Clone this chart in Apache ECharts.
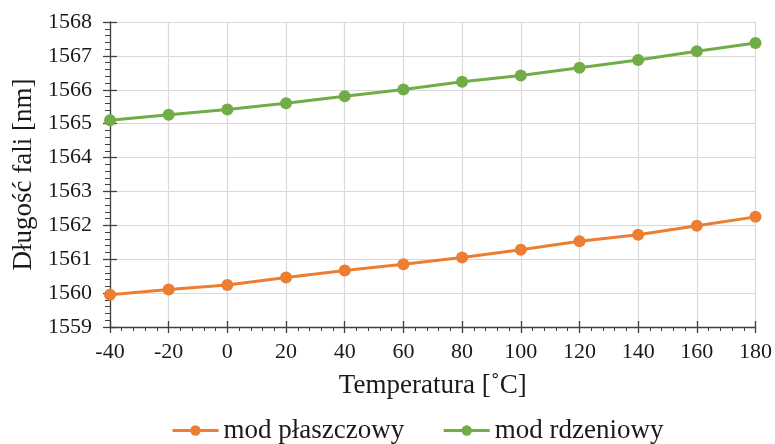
<!DOCTYPE html>
<html><head><meta charset="utf-8">
<script src="https://cdn.jsdelivr.net/npm/echarts@6/dist/echarts.min.js"></script>
<style>html,body{margin:0;padding:0;background:#fff}#c{width:775px;height:444px}</style>
</head><body><div id="c"></div>
<script>
const temperatures = [-40, -20, 0, 20, 40, 60, 80, 100, 120, 140, 160, 180];
const modPlaszczowy = [1559.95, 1560.11, 1560.24, 1560.46, 1560.67, 1560.85, 1561.05, 1561.28, 1561.53, 1561.72, 1561.99, 1562.25];
const modRdzeniowy = [1565.10, 1565.26, 1565.42, 1565.60, 1565.81, 1566.01, 1566.24, 1566.42, 1566.65, 1566.88, 1567.14, 1567.38];
const seriesNames = ['mod płaszczowy', 'mod rdzeniowy'];
const xTitle = 'Temperatura [˚C]';
const yTitle = 'Długość fali [nm]';

const font = 'Liberation Serif';
const chart = echarts.init(document.getElementById('c'), null, {renderer: 'canvas'});
const pair = (ys) => temperatures.map((t, i) => [t, ys[i]]);
const axisColor = '#404040';
const txt = '#1a1a1a';
chart.setOption({
  animation: false,
  textStyle: {fontFamily: font, color: txt},
  grid: {left: 110, right: 18, top: 22, bottom: 117},
  legend: {
    bottom: -5, left: 166, itemWidth: 46, itemHeight: 13, itemGap: 38,
    lineStyle: {width: 3},
    textStyle: {fontFamily: font, fontSize: 27, color: txt},
    data: seriesNames
  },
  xAxis: [{
    type: 'value', min: -40, max: 180, interval: 20,
    name: xTitle, nameLocation: 'middle', nameGap: 45,
    nameTextStyle: {fontFamily: font, fontSize: 27, color: txt},
    axisLine: {show: true, onZero: false, lineStyle: {color: axisColor, width: 1.3}},
    axisTick: {show: true, length: 6, lineStyle: {color: axisColor, width: 1.3}},
    minorTick: {show: true, splitNumber: 5, length: 4, lineStyle: {color: axisColor}},
    axisLabel: {fontFamily: font, fontSize: 22, color: txt, margin: 14},
    splitLine: {show: true, lineStyle: {color: '#d9d9d9', width: 1.2}}
  }, {
    type: 'value', min: -40, max: 180, interval: 20, position: 'bottom',
    axisLine: {show: false, onZero: false},
    axisTick: {show: true, inside: true, length: 6, lineStyle: {color: axisColor, width: 1.3}},
    axisLabel: {show: false}, splitLine: {show: false}
  }],
  yAxis: [{
    type: 'value', min: 1559, max: 1568, interval: 1,
    name: yTitle, nameLocation: 'middle', nameGap: 72,
    nameTextStyle: {fontFamily: font, fontSize: 27, color: txt},
    axisLine: {show: true, onZero: false, lineStyle: {color: axisColor, width: 1.3}},
    axisTick: {show: true, length: 7, lineStyle: {color: axisColor, width: 1.3}},
    minorTick: {show: true, splitNumber: 5, length: 5, lineStyle: {color: axisColor}},
    axisLabel: {fontFamily: font, fontSize: 22, color: txt, margin: 18, formatter: (v) => String(v)},
    splitLine: {show: true, lineStyle: {color: '#d9d9d9', width: 1.2}}
  }, {
    type: 'value', min: 1559, max: 1568, interval: 1, position: 'left',
    axisLine: {show: false, onZero: false},
    axisTick: {show: true, inside: true, length: 7, lineStyle: {color: axisColor, width: 1.3}},
    axisLabel: {show: false}, splitLine: {show: false}
  }],
  series: [{
    name: seriesNames[0], type: 'line', data: pair(modPlaszczowy),
    symbol: 'circle', symbolSize: 12, color: '#ED7D31',
    lineStyle: {width: 3, color: '#ED7D31'}, itemStyle: {color: '#ED7D31'}
  }, {
    name: seriesNames[1], type: 'line', data: pair(modRdzeniowy),
    symbol: 'circle', symbolSize: 12, color: '#70AD47',
    lineStyle: {width: 3, color: '#70AD47'}, itemStyle: {color: '#70AD47'}
  }]
});
</script></body></html>
